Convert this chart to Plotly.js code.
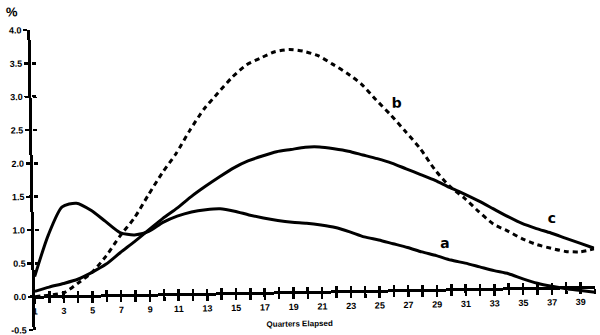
<!DOCTYPE html>
<html>
<head>
<meta charset="utf-8">
<script src="https://cdn.plot.ly/plotly-3.0.1.min.js"></script>
<style>
  html, body { margin: 0; padding: 0; background: #fff; overflow: hidden; }
  #chart { width: 600px; height: 335px; transform: rotate(-1deg); transform-origin: 35px 297px; }
</style>
</head>
<body>
<div id="chart"></div>
<script>
// Quarters elapsed (x)
const quarters = [1,2,3,4,5,6,7,8,9,10,11,12,13,14,15,16,17,18,19,20,
                  21,22,23,24,25,26,27,28,29,30,31,32,33,34,35,36,37,38,39,40];
// Series values (%)
const seriesA = [0.30,0.92,1.34,1.39,1.28,1.11,0.94,0.90,0.95,1.08,
                 1.17,1.23,1.26,1.27,1.23,1.17,1.12,1.08,1.05,1.03,
                 1.00,0.96,0.89,0.81,0.76,0.70,0.64,0.57,0.51,0.44,
                 0.39,0.33,0.27,0.22,0.14,0.07,0.02,-0.02,-0.05,-0.08];
const seriesB = [0.00,0.02,0.05,0.19,0.35,0.59,0.89,1.15,1.49,1.82,
                 2.11,2.46,2.77,3.01,3.24,3.42,3.52,3.61,3.64,3.61,
                 3.54,3.41,3.27,3.10,2.86,2.63,2.38,2.12,1.80,1.55,
                 1.37,1.16,0.97,0.86,0.74,0.65,0.59,0.54,0.53,0.57];
const seriesC = [0.08,0.14,0.19,0.25,0.35,0.47,0.64,0.80,0.97,1.14,
                 1.29,1.46,1.61,1.75,1.88,1.98,2.05,2.11,2.14,2.17,
                 2.17,2.14,2.10,2.04,1.98,1.91,1.82,1.73,1.64,1.53,
                 1.43,1.32,1.20,1.08,0.97,0.89,0.82,0.74,0.66,0.58];
const seriesNames = ['a', 'b', 'c'];
// Tick labels
const xTickLabels = ['1','','3','','5','','7','','9','','11','','13','','15','','17','','19','',
                     '21','','23','','25','','27','','29','','31','','33','','35','','37','','39',''];
const yTickVals = [-0.5,0.0,0.5,1.0,1.5,2.0,2.5,3.0,3.5,4.0];
const yTickLabels = ['-0.5','0.0','0.5','1.0','1.5','2.0','2.5','3.0','3.5','4.0'];
// Curve label positions (x, y) in data units
const labelX = [29.6, 26.4, 37.1];
const labelY = [0.70, 2.81, 1.05];

const FONT = 'Liberation Sans, Arial, sans-serif';
const zeroPos = 0.5 / 4.5;

const traces = [
  { x: quarters, y: seriesA, name: seriesNames[0], mode: 'lines',
    line: { color: '#000', width: 3, shape: 'spline', smoothing: 0.7 } },
  { x: quarters, y: seriesB, name: seriesNames[1], mode: 'lines', xaxis: 'x2', yaxis: 'y2',
    line: { color: '#000', width: 3, shape: 'spline', smoothing: 0.7, dash: '5px,4px' } },
  { x: quarters, y: seriesC, name: seriesNames[2], mode: 'lines',
    line: { color: '#000', width: 3, shape: 'spline', smoothing: 0.7 } }
];

const tickFont = { family: FONT, size: 9, color: '#000', weight: 'bold' };

const layout = {
  width: 600, height: 335,
  margin: { l: 35, r: 5, t: 30, b: 5 },
  paper_bgcolor: '#fff', plot_bgcolor: '#fff',
  showlegend: false,
  xaxis: {
    range: [1, 40], anchor: 'free', position: zeroPos,
    showgrid: false, zeroline: false,
    showline: true, linecolor: '#000', linewidth: 3,
    tickmode: 'array', tickvals: quarters, ticktext: xTickLabels,
    ticks: 'outside', ticklen: 5, tickwidth: 2.5, tickcolor: '#000',
    tickfont: tickFont, ticklabeloverflow: 'allow'
  },
  xaxis2: {
    range: [1, 40], overlaying: 'x', anchor: 'free', position: zeroPos,
    showgrid: false, zeroline: false, showline: false,
    tickmode: 'array', tickvals: quarters, ticktext: quarters.map(() => ''),
    ticks: 'inside', ticklen: 5, tickwidth: 2.5, tickcolor: '#000', showticklabels: false
  },
  yaxis: {
    range: [-0.5, 4.0], anchor: 'x',
    showgrid: false, zeroline: false,
    showline: true, linecolor: '#000', linewidth: 3,
    tickmode: 'array', tickvals: yTickVals, ticktext: yTickLabels,
    ticks: 'outside', ticklen: 4, tickwidth: 2.5, tickcolor: '#000',
    tickfont: tickFont, ticklabeloverflow: 'allow'
  },
  yaxis2: {
    range: [-0.5, 4.0], overlaying: 'y', anchor: 'free', position: 0,
    showgrid: false, zeroline: false, showline: false,
    tickmode: 'array', tickvals: yTickVals, ticktext: yTickVals.map(() => ''),
    ticks: 'inside', ticklen: 4, tickwidth: 2.5, tickcolor: '#000', showticklabels: false
  },
  annotations: [
    { text: '%', xref: 'paper', yref: 'paper', x: -0.032, y: 1.06,
      showarrow: false, xanchor: 'center', yanchor: 'middle',
      font: { family: FONT, size: 13, color: '#000', weight: 'bold' } },
    { text: 'Quarters Elapsed', xref: 'paper', yref: 'paper', x: 0.472, y: 0.005,
      showarrow: false, xanchor: 'center', yanchor: 'middle',
      font: { family: FONT, size: 8, color: '#000', weight: 'bold' } }
  ].concat(seriesNames.map((n, i) => ({
    text: n, x: labelX[i], y: labelY[i], xref: 'x', yref: 'y',
    showarrow: false, xanchor: 'center', yanchor: 'middle',
    font: { family: 'DejaVu Sans, sans-serif', size: 14, color: '#000', weight: 'bold' }
  })))
};

Plotly.newPlot('chart', traces, layout, { displayModeBar: false, staticPlot: true });
</script>
</body>
</html>
